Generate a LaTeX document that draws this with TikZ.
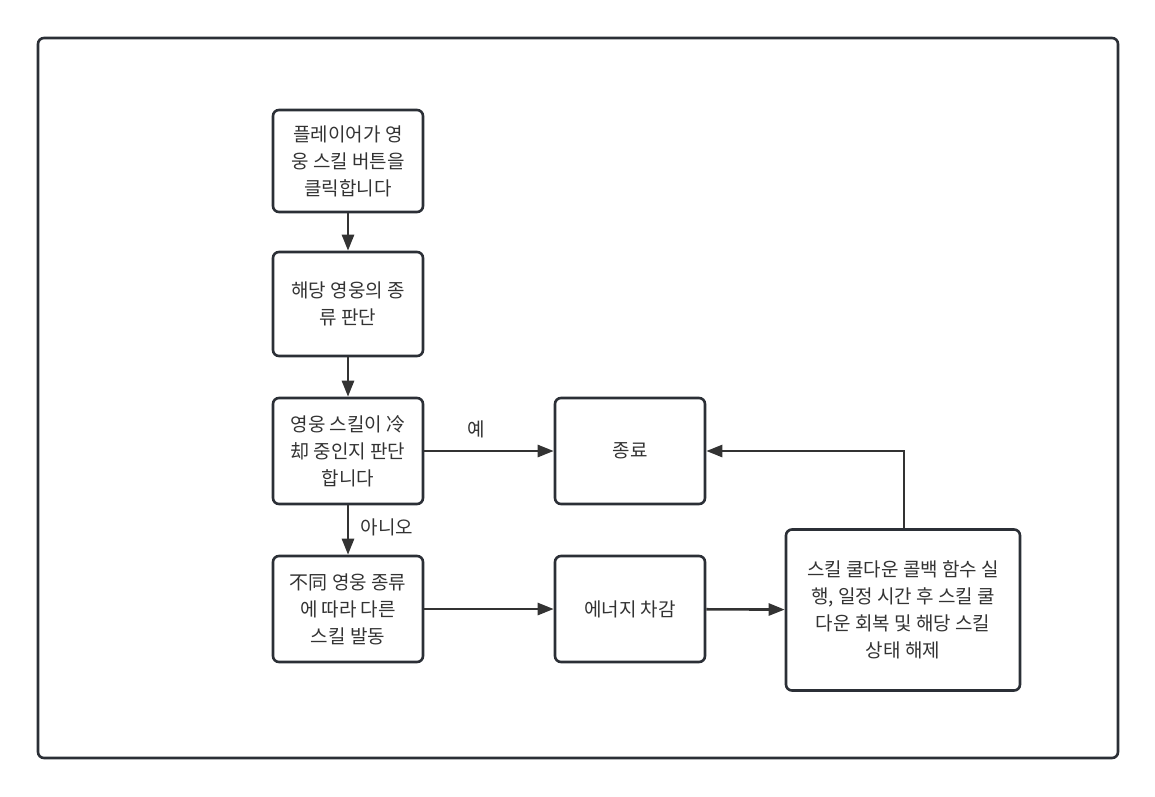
\documentclass[tikz,border=0pt]{standalone}
\usepackage{fontspec}
\setmainfont{Noto Sans CJK SC}
\usetikzlibrary{arrows.meta}
\definecolor{ink}{HTML}{333333}
\definecolor{frame}{HTML}{2B2F36}
\tikzset{
  box/.style={draw=frame, line width=2.6pt, rounded corners=6pt, align=center, text=ink,
    font=\fontsize{19}{27}\selectfont, inner sep=0pt},
  conn/.style={draw=ink, line width=2.6pt, -{Triangle[length=16pt,width=12pt]}},
  lbl/.style={text=ink, font=\fontsize{19}{22}\selectfont}
}
\begin{document}
\begin{tikzpicture}[x=1pt,y=-1pt]
\useasboundingbox (0,0) rectangle (1155,796);
\draw[draw=frame, line width=2.6pt, rounded corners=6pt] (38,38) rectangle (1118,758);
\node[box, minimum width=150pt, minimum height=102pt] (n1) at (348,161) {플레이어가 영\\웅 스킬 버튼을\\클릭합니다};
\node[box, minimum width=150pt, minimum height=104pt] (n2) at (348,304) {해당 영웅의 종\\류 판단};
\node[box, minimum width=150pt, minimum height=106pt] (n3) at (348,451) {영웅 스킬이 冷\\却 중인지 판단\\합니다};
\node[box, minimum width=150pt, minimum height=106pt] (n4) at (348,609) {不同 영웅 종류\\에 따라 다른\\스킬 발동};
\node[box, minimum width=150pt, minimum height=106pt] (n5) at (630,451) {종료};
\node[box, minimum width=150pt, minimum height=106pt] (n6) at (630,609) {에너지 차감};
\node[box, minimum width=234pt, minimum height=161pt] (n7) at (903,610) {스킬 쿨다운 콜백 함수 실\\행, 일정 시간 후 스킬 쿨\\다운 회복 및 해당 스킬\\상태 해제};
\draw[conn] (n1) -- (n2);
\draw[conn] (n2) -- (n3);
\draw[conn] (n3) -- node[lbl, right=8pt, pos=0.45] {아니오} (n4);
\draw[conn] (n3) -- node[lbl, above=8pt, pos=0.4] {예} (n5);
\draw[conn] (n4) -- (n6);
\draw[conn] (n6) -- (n7);
\coordinate (c1) at (904,451);
\draw[conn] (n7.north -| c1) -- (c1) -- (n5.east);
\end{tikzpicture}
\end{document}
